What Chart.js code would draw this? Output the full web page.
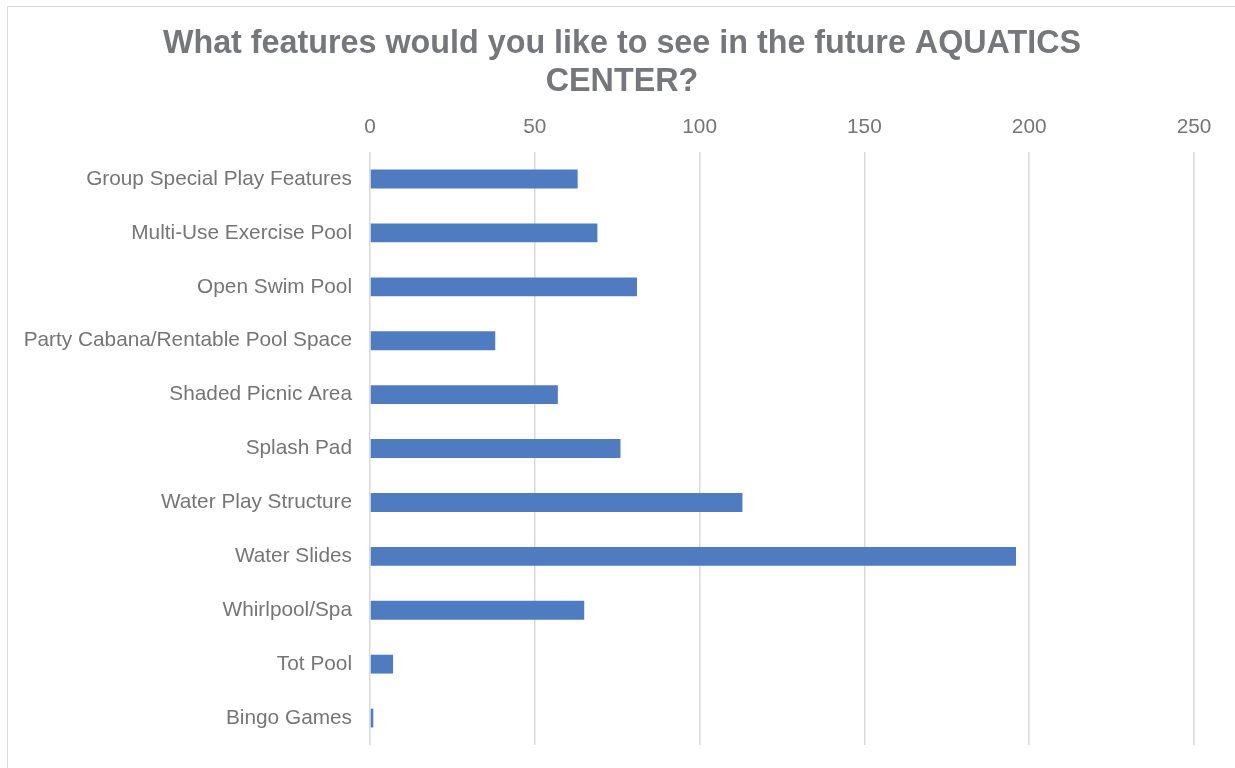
<!DOCTYPE html>
<html>
<head>
<meta charset="utf-8">
<title>Aquatics Center features</title>
<script src="https://cdn.jsdelivr.net/npm/chart.js@4/dist/chart.umd.min.js"></script>
<style>
  body { margin: 0; background: #fff; }
  #wrap { position: relative; width: 1235px; height: 768px; overflow: hidden; }
  #frame { position: absolute; left: 7px; top: 6px; width: 1240px; height: 770px;
           border-left: 1.5px solid #d9d9d9; border-top: 1.5px solid #d9d9d9; }
  #myChart { position: absolute; left: 0; top: 0; }
</style>
</head>
<body>
<div id="wrap">
  <div id="frame"></div>
  <canvas id="myChart" width="1235" height="768"></canvas>
</div>
<script>
var features = [
  "Group Special Play Features",
  "Multi-Use Exercise Pool",
  "Open Swim Pool",
  "Party Cabana/Rentable Pool Space",
  "Shaded Picnic Area",
  "Splash Pad",
  "Water Play Structure",
  "Water Slides",
  "Whirlpool/Spa",
  "Tot Pool",
  "Bingo Games"
];
var votes = [63, 69, 81, 38, 57, 76, 113, 196, 65, 7, 1];

var titleLines = ["What features would you like to see in the future AQUATICS", "CENTER?"];
var axisMax = 250;
var axisStep = 50;

var textGray = "#757575";
var gridGray = "#d9d9d9";
var fontFamily = "'Liberation Sans', Arial, sans-serif";

var dataChart = {
  labels: features,
  datasets: [
    {
      data: votes,
      backgroundColor: "#4f7cc0",
      barPercentage: 0.35,
      categoryPercentage: 1.0
    }
  ]
};

var options = {
  indexAxis: "y",
  responsive: false,
  devicePixelRatio: 1,
  animation: false,
  layout: { padding: { left: 9, right: 0, top: 8, bottom: 23 } },
  plugins: {
    legend: { display: false },
    tooltip: { enabled: false },
    title: {
      display: true,
      text: titleLines,
      color: "#76777a",
      font: { family: fontFamily, size: 32.3, weight: "bold", lineHeight: 1.17 },
      padding: { top: 17, bottom: 0 }
    }
  },
  scales: {
    x: {
      position: "top",
      min: 0,
      max: axisMax,
      border: { display: false },
      grid: { color: gridGray, lineWidth: 1.5, drawTicks: false },
      ticks: {
        stepSize: axisStep,
        padding: 12,
        color: textGray,
        font: { family: fontFamily, size: 20.8 }
      },
      afterFit: function(scale) {
        scale.height = 51.5;
        scale.paddingLeft = 0;
        scale.paddingRight = 41;
        scale.paddingTop = 0;
        scale.paddingBottom = 0;
      }
    },
    y: {
      border: { display: false },
      grid: { display: false, drawTicks: false },
      ticks: {
        padding: 18,
        color: textGray,
        font: { family: fontFamily, size: 20.8 }
      },
      afterFit: function(scale) {
        scale.width = 361;
        scale.paddingTop = 0;
        scale.paddingBottom = 0;
      }
    }
  }
};

var ctx = document.getElementById("myChart").getContext("2d");
var myChart = new Chart(ctx, { type: "bar", data: dataChart, options: options });
</script>
</body>
</html>
